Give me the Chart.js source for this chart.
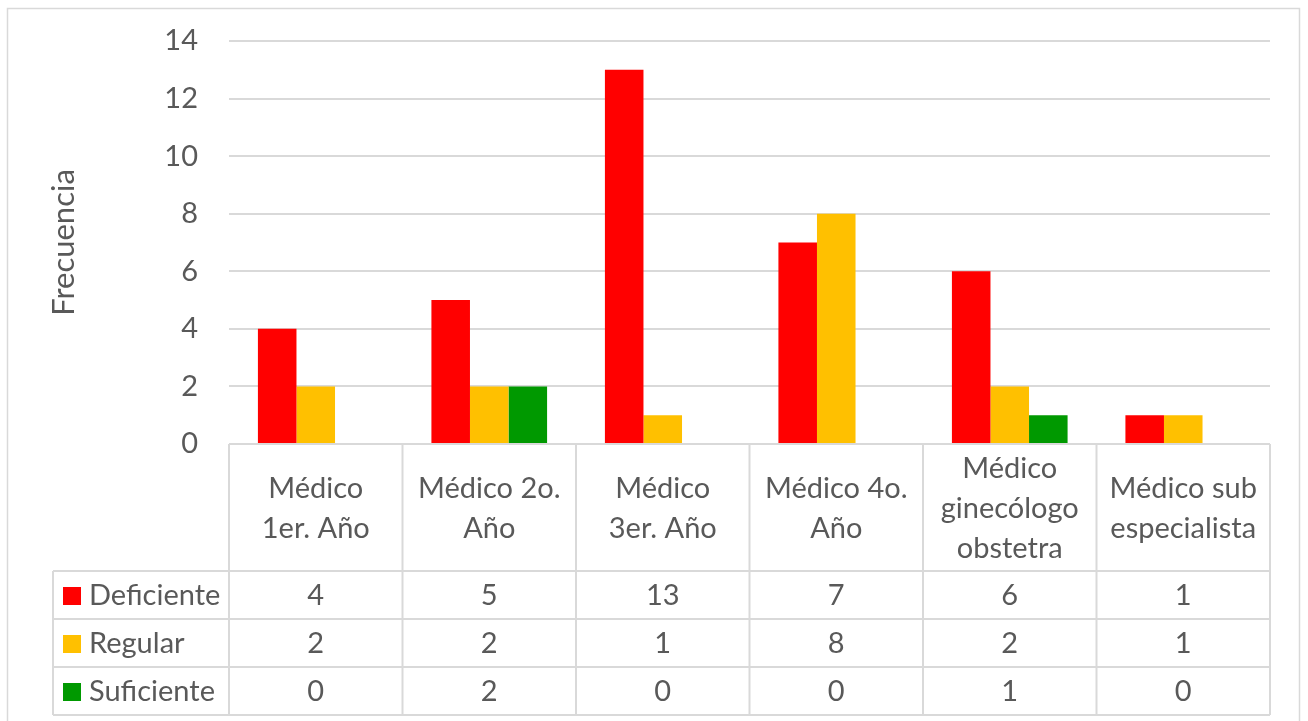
<!DOCTYPE html>
<html>
<head>
<meta charset="utf-8">
<script src="https://cdn.jsdelivr.net/npm/chart.js@4/dist/chart.umd.min.js"></script>
<style>
  html, body { margin: 0; padding: 0; background: #fff; }
  #wrap { width: 1308px; height: 721px; }
</style>
</head>
<body>
<div id="wrap"><canvas id="freqChart" width="1308" height="721"></canvas></div>
<script>
// categories (already split in lines for the table header)
const categories = [
  ["Médico", "1er. Año"],
  ["Médico 2o.", "Año"],
  ["Médico", "3er. Año"],
  ["Médico 4o.", "Año"],
  ["Médico", "ginecólogo", "obstetra"],
  ["Médico sub", "especialista"]
];
const seriesNames = ["Deficiente", "Regular", "Suficiente"];
const deficiente = [4, 5, 13, 7, 6, 1];
const regular = [2, 2, 1, 8, 2, 1];
const suficiente = [0, 2, 0, 0, 1, 0];
const yTicks = [0, 2, 4, 6, 8, 10, 12, 14];

const colors = ["#FF0000", "#FFC000", "#009900"];
const textColor = "#595959";
const lineColor = "#D9D9D9";
const FONT = "Lato, 'Liberation Sans', sans-serif";
const FS = 29;

// table geometry (below the plot)
const tableLeft = 53;
const headerH = 127;
const rowH = 48;

const dataTable = {
  id: "dataTable",
  beforeDraw(chart) {
    const ctx = chart.ctx;
    ctx.save();
    ctx.strokeStyle = lineColor;
    ctx.lineWidth = 1.5;
    ctx.strokeRect(7.5, 8.5, 1292, 760);
    ctx.restore();
  },
  afterDraw(chart) {
    const ctx = chart.ctx;
    const xs = chart.scales.x;
    const area = chart.chartArea;
    const left = area.left, right = area.right;
    const top = area.bottom;
    const colW = (right - left) / categories.length;
    const rowsTop = top + headerH;
    const bottom = rowsTop + rowH * seriesNames.length;
    const all = [deficiente, regular, suficiente];

    ctx.save();
    ctx.strokeStyle = lineColor;
    ctx.lineWidth = 2;
    ctx.beginPath();
    // horizontal rules
    ctx.moveTo(left, top); ctx.lineTo(right, top);
    for (let r = 0; r <= seriesNames.length; r++) {
      const y = rowsTop + r * rowH;
      ctx.moveTo(tableLeft, y); ctx.lineTo(right, y);
    }
    // vertical rules
    for (let c = 0; c <= categories.length; c++) {
      const x = left + c * colW;
      ctx.moveTo(x, top); ctx.lineTo(x, bottom);
    }
    ctx.moveTo(tableLeft, rowsTop); ctx.lineTo(tableLeft, bottom);
    ctx.stroke();

    ctx.fillStyle = textColor;
    ctx.font = FS + "px " + FONT;
    ctx.textAlign = "center";
    ctx.textBaseline = "middle";
    const lh = 40;
    categories.forEach((lines, i) => {
      const cx = xs.getPixelForValue(i);
      const cy = top + headerH / 2 + 1;
      lines.forEach((ln, k) => {
        ctx.fillText(ln, cx, cy + (k - (lines.length - 1) / 2) * lh);
      });
    });

    seriesNames.forEach((name, r) => {
      const cy = rowsTop + r * rowH + rowH / 2 + 1;
      ctx.fillStyle = colors[r];
      ctx.fillRect(tableLeft + 10, cy - 9, 18, 18);
      ctx.fillStyle = textColor;
      ctx.textAlign = "left";
      ctx.fillText(name, tableLeft + 36, cy);
      ctx.textAlign = "center";
      all[r].forEach((v, i) => {
        ctx.fillText(String(v), xs.getPixelForValue(i), cy);
      });
    });
    ctx.restore();
  }
};

new Chart(document.getElementById("freqChart"), {
  type: "bar",
  data: {
    labels: categories,
    datasets: [
      { label: seriesNames[0], data: deficiente, backgroundColor: colors[0] },
      { label: seriesNames[1], data: regular, backgroundColor: colors[1] },
      { label: seriesNames[2], data: suficiente, backgroundColor: colors[2] }
    ]
  },
  options: {
    responsive: false,
    animation: false,
    devicePixelRatio: 1,
    layout: { padding: { left: 8, right: 38, top: 41, bottom: 277 } },
    datasets: { bar: { categoryPercentage: 3 / 4.5, barPercentage: 1 } },
    plugins: { legend: { display: false }, tooltip: { enabled: false } },
    scales: {
      x: { display: false },
      y: {
        min: 0,
        max: 14,
        afterFit(scale) {
          scale.width = 221;
          scale.paddingTop = 0;
          scale.paddingBottom = 0;
        },
        afterBuildTicks(scale) { scale.ticks = yTicks.map(v => ({ value: v })); },
        border: { display: false },
        grid: { color: lineColor, lineWidth: 2, drawTicks: false },
        ticks: {
          padding: 31,
          color: textColor,
          font: { family: FONT, size: FS }
        },
        title: {
          display: true,
          text: "Frecuencia",
          color: textColor,
          padding: { top: 37, bottom: 0 },
          font: { family: FONT, size: 31 }
        }
      }
    }
  },
  plugins: [dataTable]
});
</script>
</body>
</html>
